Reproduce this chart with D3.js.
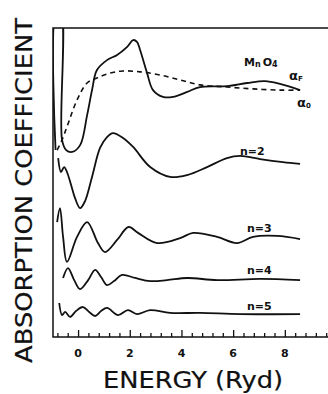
<!DOCTYPE html>
<html>
<head>
<meta charset="utf-8">
<script src="https://cdn.jsdelivr.net/npm/d3@7"></script>
<style>
  body { margin: 0; background: #fff; }
  text { font-family: "DejaVu Sans", sans-serif; fill: #111; }
</style>
</head>
<body>
<div id="chart"></div>
<script>
// Energy (Ryd) vs absorption coefficient (arbitrary, curves offset)
var mnO4Full = [[-0.87,6.05],[-0.84,10.6],[-0.67,10.6],[-0.62,6.38],[-0.46,6.05],[-0.23,5.99],[0.08,6.21],[0.35,7.18],[0.54,7.99],[0.73,8.64],[1.12,8.96],[1.51,9.13],[1.90,9.39],[2.13,9.61],[2.28,9.55],[2.40,9.29],[2.67,8.54],[2.90,7.99],[3.29,7.77],[3.67,7.77],[4.22,7.93],[4.72,8.09],[5.76,8.12],[6.54,8.22],[7.23,8.28],[7.81,8.19],[8.59,7.99]];
var mnO4Atomic = [[-0.81,6.05],[-0.62,6.38],[-0.43,6.80],[-0.04,7.67],[0.35,8.22],[0.73,8.38],[1.24,8.54],[1.74,8.61],[2.40,8.58],[3.17,8.48],[3.95,8.32],[4.72,8.16],[5.76,8.09],[6.77,8.03],[7.81,7.99],[8.59,7.99]];
var cluster2 = [[-0.77,5.79],[-0.66,5.34],[-0.54,5.50],[-0.43,5.34],[-0.27,4.92],[-0.12,4.50],[0.08,4.17],[0.27,4.40],[0.54,5.18],[0.85,6.12],[1.12,6.47],[1.35,6.60],[1.74,6.44],[2.13,6.15],[2.79,5.50],[3.56,5.18],[4.22,5.24],[4.99,5.50],[5.76,5.79],[6.27,5.86],[7.04,5.76],[7.93,5.66],[8.59,5.60]];
var cluster3 = [[-0.81,3.72],[-0.70,4.17],[-0.58,3.24],[-0.43,2.43],[-0.04,3.24],[0.35,3.72],[0.77,3.04],[1.04,2.75],[1.51,3.14],[1.95,3.56],[2.32,3.37],[3.06,3.04],[3.95,3.20],[4.45,3.37],[5.38,3.24],[6.15,3.04],[6.77,3.24],[7.70,3.27],[8.59,3.17]];
var cluster4 = [[-0.58,1.91],[-0.39,2.23],[-0.15,1.84],[0.08,1.55],[0.39,1.84],[0.66,2.17],[0.89,1.94],[1.12,1.68],[1.39,1.81],[1.70,2.01],[2.21,1.91],[2.79,1.81],[3.44,1.84],[4.22,1.91],[5.38,1.84],[7.04,1.88],[8.59,1.84]];
var cluster5 = [[-0.73,1.10],[-0.62,0.71],[-0.50,0.81],[-0.31,0.65],[-0.08,0.84],[0.19,0.97],[0.43,0.81],[0.66,0.68],[0.89,0.84],[1.12,0.94],[1.55,0.71],[1.93,0.87],[2.28,0.74],[2.79,0.87],[3.56,0.78],[4.72,0.78],[6.27,0.74],[8.59,0.74]];

var majorTicks = [0, 2, 4, 6, 8];
var minorTicks = [-0.8,-0.4,0.4,0.8,1.2,1.6,2.4,2.8,3.2,3.6,4.4,4.8,5.2,5.6,6.4,6.8,7.2,7.6,8.4,8.8,9.2,9.6];

var width = 328, height = 394;
var svg = d3.select("#chart").append("svg")
	.attr("width", width)
	.attr("height", height);

var x = d3.scaleLinear().domain([-0.97, 9.67]).range([53, 328]);
var y = d3.scaleLinear().domain([0, 10]).range([337, 28]);

svg.append("clipPath").attr("id", "plot")
	.append("rect").attr("x", 53).attr("y", 28).attr("width", 275).attr("height", 309);

var line = d3.line()
	.x(d => x(d[0]))
	.y(d => y(d[1]))
	.curve(d3.curveCatmullRom.alpha(0.5));

// curves
var curves = svg.append("g").attr("clip-path", "url(#plot)");
[mnO4Full, cluster2, cluster3, cluster4, cluster5].forEach(function(s){
	curves.append("path")
		.attr("d", line(s))
		.attr("fill", "none")
		.attr("stroke", "#111")
		.attr("stroke-width", 1.8);
});
curves.append("path")
	.attr("d", line(mnO4Atomic))
	.attr("fill", "none")
	.attr("stroke", "#111")
	.attr("stroke-width", 1.6)
	.attr("stroke-dasharray", "5,4");

// frame
svg.append("path")
	.attr("d", "M328,28H53V337H328")
	.attr("fill", "none")
	.attr("stroke", "#111")
	.attr("stroke-width", 1.5);

// bottom axis, ticks pointing inward
var axis = svg.append("g").attr("transform", "translate(0,337)");
axis.call(d3.axisTop(x).tickValues(majorTicks).tickSize(7).tickFormat(""))
	.call(g => g.select(".domain").remove());
axis.append("g").call(d3.axisTop(x).tickValues(minorTicks).tickSize(4).tickFormat(""))
	.call(g => g.select(".domain").remove());
axis.selectAll("line").attr("stroke", "#111").attr("stroke-width", 1.3);

svg.append("g").selectAll("text")
	.data(majorTicks)
	.enter().append("text")
	.attr("x", d => x(d))
	.attr("y", 357)
	.attr("text-anchor", "middle")
	.attr("font-size", 11)
	.attr("font-weight", "bold")
	.text(d => d);

// axis titles
svg.append("text")
	.attr("x", 103).attr("y", 388)
	.attr("font-size", 23)
	.attr("textLength", 180)
	.attr("lengthAdjust", "spacingAndGlyphs")
	.attr("stroke", "#111").attr("stroke-width", 0.2)
	.text("ENERGY (Ryd)");

svg.append("text")
	.attr("transform", "translate(32,363) rotate(-90)")
	.attr("font-size", 23)
	.attr("textLength", 345)
	.attr("lengthAdjust", "spacingAndGlyphs")
	.attr("stroke", "#111").attr("stroke-width", 0.2)
	.text("ABSORPTION COEFFICIENT");

// curve labels
var mn = svg.append("text").attr("x", 244).attr("y", 66).attr("font-size", 11).attr("font-weight", "bold");
mn.append("tspan").text("M");
mn.append("tspan").attr("font-size", 8).attr("dy", 1).text("n");
mn.append("tspan").attr("dy", -1).attr("dx", 2).text("O");
mn.append("tspan").attr("font-size", 8).attr("dy", 1).text("4");

var af = svg.append("text").attr("x", 289).attr("y", 80).attr("font-size", 13).attr("font-weight", "bold");
af.append("tspan").text("α");
af.append("tspan").attr("font-size", 7).attr("dy", 1).text("F");

var a0 = svg.append("text").attr("x", 297).attr("y", 107).attr("font-size", 13).attr("font-weight", "bold");
a0.append("tspan").text("α");
a0.append("tspan").attr("font-size", 7).attr("dy", 1).text("0");

var nLabels = [["n=2", 240, 155], ["n=3", 247, 232], ["n=4", 247, 274], ["n=5", 247, 310]];
svg.append("g").selectAll("text")
	.data(nLabels)
	.enter().append("text")
	.attr("x", d => d[1])
	.attr("y", d => d[2])
	.attr("font-size", 11)
	.attr("font-weight", "bold")
	.text(d => d[0]);
</script>
</body>
</html>
